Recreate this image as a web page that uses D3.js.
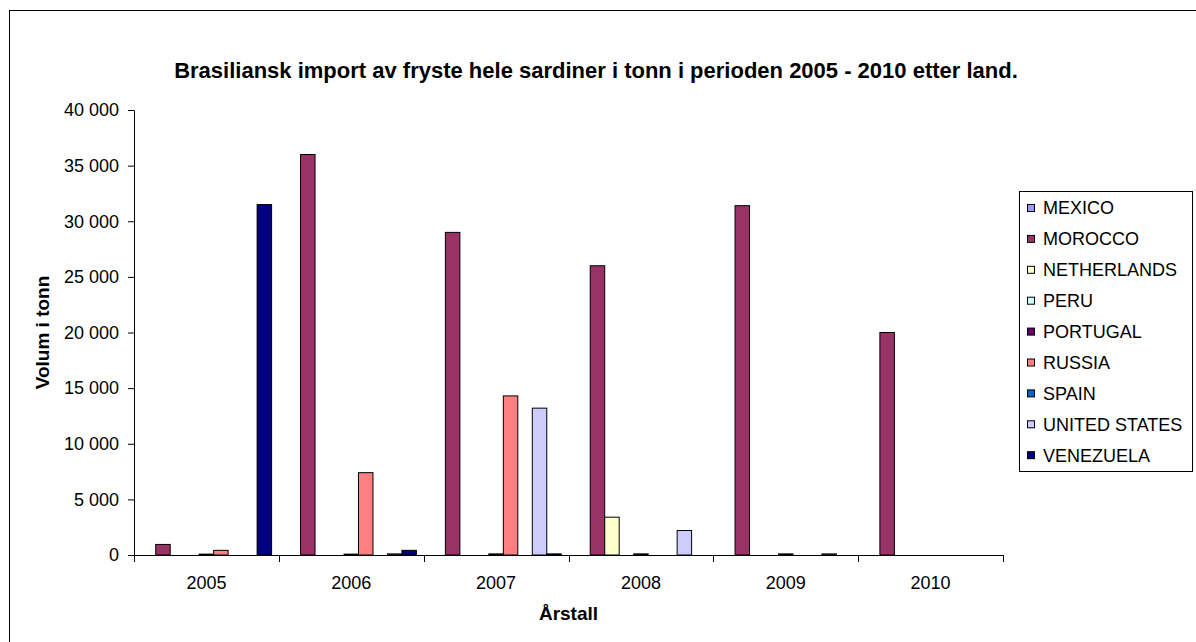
<!DOCTYPE html>
<html>
<head>
<meta charset="utf-8">
<script src="https://cdn.jsdelivr.net/npm/d3@7"></script>
<style>
  body { margin: 0; background: #fff; }
  svg text { font-family: Arial, 'Liberation Sans', sans-serif; fill: #000; }
</style>
</head>
<body>
<div id="main"></div>
<script>
// chart data
const years = ['2005', '2006', '2007', '2008', '2009', '2010'];
const countries = ['MEXICO', 'MOROCCO', 'NETHERLANDS', 'PERU', 'PORTUGAL', 'RUSSIA', 'SPAIN', 'UNITED STATES', 'VENEZUELA'];
const mexico = [0, 0, 0, 0, 0, 0];
const morocco = [950, 36000, 29000, 26000, 31400, 20000];
const netherlands = [0, 0, 0, 3400, 0, 0];
const peru = [0, 0, 0, 0, 0, 0];
const portugal = [80, 80, 100, 100, 100, 0];
const russia = [420, 7400, 14300, 0, 0, 0];
const spain = [0, 0, 0, 0, 0, 0];
const unitedStates = [0, 100, 13200, 2200, 100, 0];
const venezuela = [31500, 420, 100, 0, 0, 0];
const yTicks = [0, 5000, 10000, 15000, 20000, 25000, 30000, 35000, 40000];
const colors = ['#9999FF', '#993366', '#FFFFCC', '#CCFFFF', '#660066', '#FF8080', '#0066CC', '#CCCCFF', '#000080'];

const seriesValues = [mexico, morocco, netherlands, peru, portugal, russia, spain, unitedStates, venezuela];

function main() {
  const width = 1196;
  const height = 642;
  const plot = { left: 134, right: 1003, top: 110, bottom: 555 };
  const fontSize = 18; // tick and legend labels

  const svg = d3.select('#main')
    .append('svg')
    .attr('width', width)
    .attr('height', height);

  // outer chart frame (runs off the bottom/right of the picture)
  svg.append('rect')
    .attr('x', 9.5)
    .attr('y', 10.5)
    .attr('width', 1300)
    .attr('height', 800)
    .attr('fill', '#fff')
    .attr('stroke', '#000');

  // title
  svg.append('text')
    .attr('x', 596)
    .attr('y', 78)
    .attr('text-anchor', 'middle')
    .style('font-size', '22px')
    .style('font-weight', 'bold')
    .text('Brasiliansk import av fryste hele sardiner i tonn i perioden 2005 - 2010 etter land.');

  // scales
  const x0 = d3.scaleBand()
    .domain(years)
    .range([plot.left, plot.right]);
  const x1 = d3.scaleBand()
    .domain(countries)
    .range([0, x0.bandwidth()])
    .paddingOuter(0.5);
  const y = d3.scaleLinear()
    .domain([0, 40000])
    .range([plot.bottom, plot.top]);

  const locale = d3.formatLocale({ decimal: ',', thousands: ' ', grouping: [3], currency: ['', ''] });
  const fmt = locale.format(',d');

  // bars, grouped by year
  const groups = svg.append('g')
    .selectAll('g')
    .data(years)
    .enter()
    .append('g')
    .attr('transform', d => `translate(${x0(d)},0)`);
  groups.selectAll('rect')
    .data((yr, i) => countries.map((c, k) => ({ c, k, v: seriesValues[k][i] })).filter(d => d.v > 0))
    .enter()
    .append('rect')
    .attr('x', d => x1(d.c))
    .attr('y', d => y(d.v))
    .attr('width', x1.bandwidth())
    .attr('height', d => y(0) - y(d.v))
    .attr('fill', d => colors[d.k])
    .attr('stroke', '#000')
    .attr('stroke-width', 1);

  // y axis
  const yAxis = svg.append('g')
    .attr('transform', `translate(${plot.left},0)`)
    .call(d3.axisLeft(y).tickValues(yTicks).tickFormat(fmt).tickSize(6).tickSizeOuter(0));
  yAxis.selectAll('text').style('font-size', `${fontSize}px`).attr('x', -15);
  yAxis.select('.domain').attr('stroke', '#000');

  // x axis: line with ticks at the category boundaries, labels in the middle
  const xAxis = svg.append('g')
    .attr('transform', `translate(0,${plot.bottom})`)
    .call(d3.axisBottom(x0).tickSize(0).tickPadding(21));
  xAxis.select('.domain').attr('d', `M${plot.left},0.5H${plot.right}`).attr('stroke', '#000');
  xAxis.selectAll('text').style('font-size', `${fontSize}px`);
  xAxis.selectAll('line.bound')
    .data(years.map(d => x0(d)).concat([plot.right]))
    .enter()
    .append('line')
    .attr('class', 'bound')
    .attr('x1', d => Math.round(d) + 0.5)
    .attr('x2', d => Math.round(d) + 0.5)
    .attr('y1', 0)
    .attr('y2', 7)
    .attr('stroke', '#000');

  // axis titles
  svg.append('text')
    .attr('x', (plot.left + plot.right) / 2)
    .attr('y', 620)
    .attr('text-anchor', 'middle')
    .style('font-size', '19px')
    .style('font-weight', 'bold')
    .text('Årstall');
  svg.append('text')
    .attr('transform', `translate(49,${(plot.top + plot.bottom) / 2}) rotate(-90)`)
    .attr('text-anchor', 'middle')
    .style('font-size', '19px')
    .style('font-weight', 'bold')
    .text('Volum i tonn');

  // legend
  const legend = svg.append('g');
  legend.append('rect')
    .attr('x', 1019.5)
    .attr('y', 191.5)
    .attr('width', 173)
    .attr('height', 280)
    .attr('fill', '#fff')
    .attr('stroke', '#000');
  const items = legend.selectAll('g.item')
    .data(countries)
    .enter()
    .append('g')
    .attr('class', 'item')
    .attr('transform', (d, i) => `translate(1027,${208 + i * 30.9})`);
  items.append('rect')
    .attr('x', 0.5)
    .attr('y', -3.5)
    .attr('width', 7)
    .attr('height', 7)
    .attr('fill', (d, i) => colors[i])
    .attr('stroke', '#000');
  items.append('text')
    .attr('x', 16)
    .attr('dy', '0.35em')
    .style('font-size', `${fontSize}px`)
    .text(d => d);
}

main();
</script>
</body>
</html>
